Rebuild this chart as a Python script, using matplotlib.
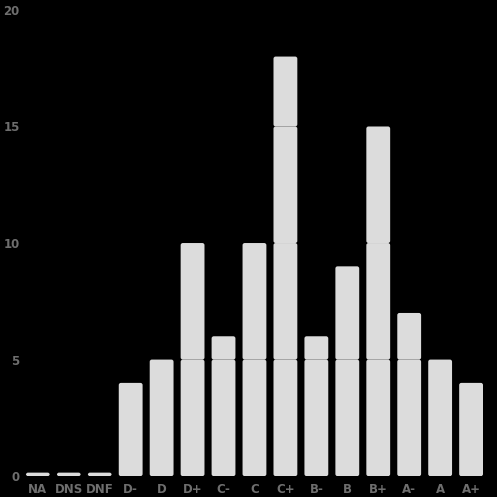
import matplotlib
matplotlib.use("Agg")
import matplotlib.pyplot as plt
from matplotlib.patches import FancyBboxPatch

grades = ["NA", "DNS", "DNF", "D-", "D", "D+", "C-", "C", "C+",
          "B-", "B", "B+", "A-", "A", "A+"]
counts = [0.15, 0.15, 0.15, 4, 5, 10, 6, 10, 18, 6, 9, 15, 7, 5, 4]
y_ticks = [0, 5, 10, 15, 20]
block = 5  # bars are drawn as stacked blocks of 5

fig = plt.figure(figsize=(4.97, 4.97), dpi=100, facecolor="black")
ax = fig.add_axes([0.045, 0.042, 0.934, 0.938], facecolor="black")

bar_w = 0.77
# ratio of y-units to x-units per pixel, so the rounded corners stay round
aspect = (20 / (0.938 * 497)) / (15 / (0.934 * 497))

for i, v in enumerate(counts):
    base = 0
    while base < v:
        h = min(block, v - base)
        ax.add_patch(FancyBboxPatch(
            (i - bar_w / 2, base), bar_w, h,
            boxstyle="round,pad=0,rounding_size=0.07",
            mutation_aspect=aspect,
            facecolor="#dcdcdc", edgecolor="none"))
        base += h

ax.set_xlim(-0.5, len(grades) - 0.5)
ax.set_ylim(0, 20)
ax.set_xticks(range(len(grades)))
ax.set_xticklabels(grades)
ax.set_yticks(y_ticks)
for lab in ax.get_xticklabels() + ax.get_yticklabels():
    lab.set_color("#6e6e6e")
    lab.set_fontweight("bold")
    lab.set_fontsize(8.5)
ax.tick_params(axis="x", length=0, pad=5)
ax.tick_params(axis="y", length=0, pad=2)
for s in ax.spines.values():
    s.set_visible(False)

fig.savefig("out.png", dpi=100, facecolor="black")
